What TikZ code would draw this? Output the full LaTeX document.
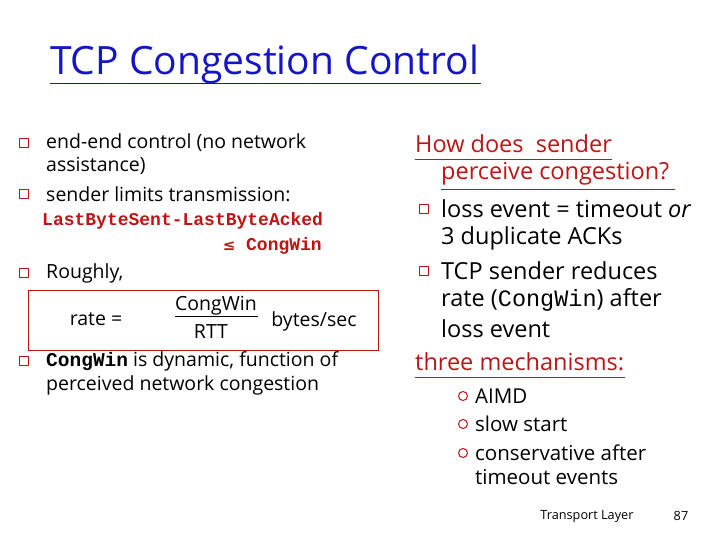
\documentclass[tikz,border=0pt]{standalone}
\usepackage{fontspec}
\setmainfont{Open Sans}
\setmonofont{Liberation Mono}
\newfontfamily\sym{DejaVu Sans}
\definecolor{tred}{RGB}{190,20,20}
\definecolor{tblue}{RGB}{20,20,200}
\begin{document}
\begin{tikzpicture}[x=1pt,y=-1pt,
  txt/.style={anchor=west,inner sep=0pt,font=\fontsize{19.5}{19}\selectfont},
  rtxt/.style={anchor=west,inner sep=0pt,font=\fontsize{23.5}{23}\selectfont},
  stxt/.style={anchor=west,inner sep=0pt,font=\fontsize{20.5}{20}\selectfont},
  sq/.style={draw=tred,line width=1.3pt,minimum size=9pt,inner sep=0pt},
  circ/.style={circle,draw=tred,line width=1pt,minimum size=9pt,inner sep=0pt},
  mono/.style={anchor=west,inner sep=0pt,text=tred,font=\fontsize{18}{18}\selectfont\ttfamily\bfseries}]
\useasboundingbox (0,0) rectangle (720,540);
\node[anchor=west,inner sep=0pt,text=tblue,font=\fontsize{39}{39}\selectfont] (title) at (50,64) {TCP Congestion Control};
\draw[tblue,line width=1pt] (50,84) -- (481,84);
% left
\node[sq] (b1) at (24,143) {};
\node[txt] (t1) at (46,143) {end-end control (no network};
\node[txt] (t1b) at (46,166) {assistance)};
\node[sq] (b2) at (24,194) {};
\node[txt] (t2) at (46,194) {sender limits transmission:};
\node[mono] (m1) at (42,221) {LastByteSent-LastByteAcked};
\node[mono,anchor=east] (m2) at (322,246) {{\sym\fontsize{15}{15}\selectfont ≤} CongWin};
\node[sq] (b3) at (24,273) {};
\node[txt] (t3) at (46,273) {Roughly,};
\node[draw=tred,line width=1.2pt,minimum width=350pt,minimum height=60pt,anchor=north west,inner sep=0pt] (box) at (28,290) {};
\node[txt,anchor=center] (rate) at (96,319) {rate =};
\node[txt,anchor=center] (cw) at (216,306) {CongWin};
\draw[line width=0.8pt] (175,316) -- (258,316);
\node[txt,anchor=center] (rtt) at (211,332) {RTT};
\node[txt,anchor=center] (bps) at (314,321) {bytes/sec};
\node[sq] (b4) at (24,361) {};
\node[txt] (t4) at (46,361) {{\ttfamily\bfseries CongWin} is dynamic, function of};
\node[txt] (t4b) at (46,385) {perceived network congestion};
% right
\node[rtxt,text=tred] (h1) at (415,144) {How does \ sender};
\draw[tred,line width=0.8pt] (415,159) -- (612,159);
\node[rtxt,text=tred] (h2) at (441,174) {perceive congestion?};
\draw[tred,line width=0.8pt] (441,189) -- (675,189);
\node[sq] (r1) at (424,209) {};
\node[rtxt] (s1) at (441,209) {loss event = timeout \textit{or}};
\node[rtxt] (s1b) at (441,238) {3 duplicate ACKs};
\node[sq] (r2) at (424,271) {};
\node[rtxt] (s2) at (441,271) {TCP sender reduces};
\node[rtxt] (s2b) at (441,300) {rate ({\ttfamily CongWin}) after};
\node[rtxt] (s2c) at (441,329) {loss event};
\node[rtxt,text=tred] (h3) at (415,362) {three mechanisms:};
\draw[tred,line width=0.8pt] (415,377) -- (625,377);
\node[circ] (c1) at (463,396) {};
\node[stxt] (u1) at (475,396) {AIMD};
\node[circ] (c2) at (463,424) {};
\node[stxt] (u2) at (475,424) {slow start};
\node[circ] (c3) at (463,453) {};
\node[stxt] (u3) at (475,453) {conservative after};
\node[stxt] (u3b) at (475,477) {timeout events};
\node[anchor=center,inner sep=0pt,font=\fontsize{12.7}{12}\selectfont] (foot) at (587,516) {Transport Layer};
\node[anchor=center,inner sep=0pt,font=\fontsize{12.7}{12}\selectfont] (pg) at (681,516) {87};
\end{tikzpicture}
\end{document}
